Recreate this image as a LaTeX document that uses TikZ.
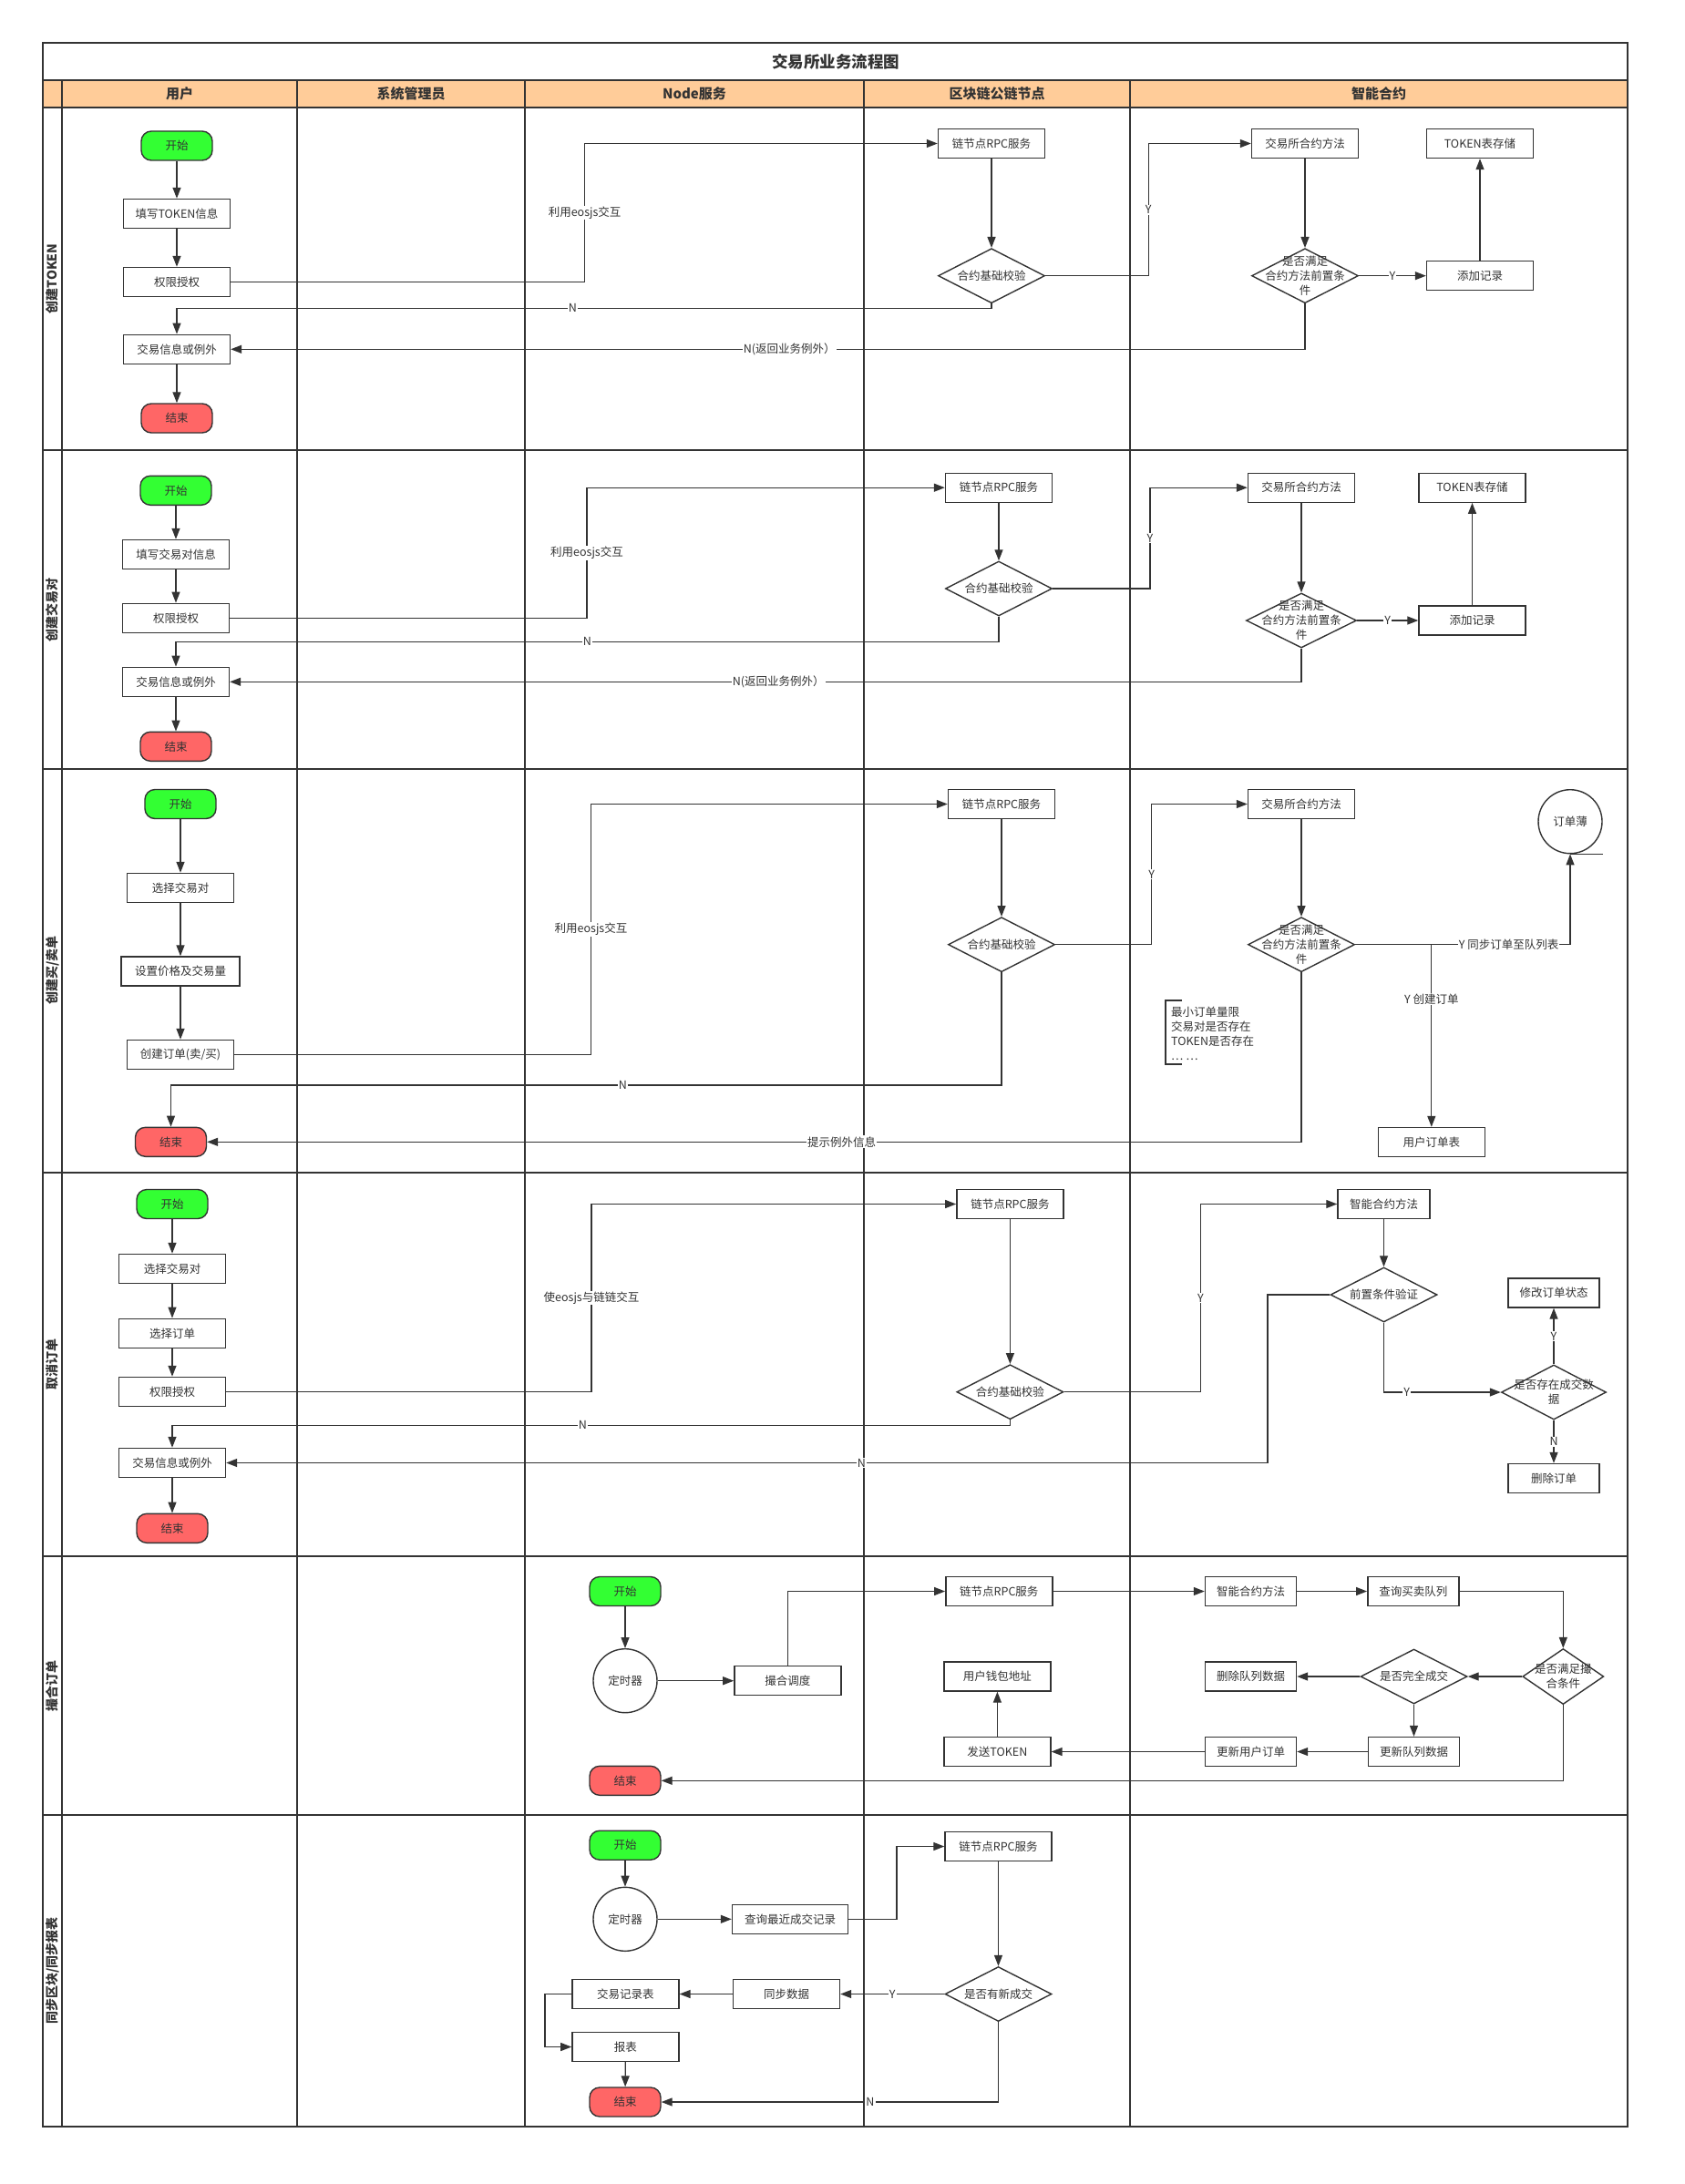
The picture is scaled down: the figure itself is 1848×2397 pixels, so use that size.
\documentclass[tikz,border=0pt]{standalone}
\usepackage{fontspec}
\setmainfont{Noto Sans CJK SC}
\usetikzlibrary{arrows.meta,shapes.geometric}
\definecolor{lc}{HTML}{333333}
\definecolor{hdrc}{HTML}{FFCC99}
\definecolor{startg}{HTML}{33FF33}
\definecolor{endr}{HTML}{FF6666}
\newcommand\myfs{\fontsize{12.5}{16}\selectfont}
\newcommand\myhfs{\fontsize{15}{18}\bfseries\selectfont}
\newcommand\myrfs{\fontsize{14}{17}\bfseries\selectfont}
\newcommand\mytfs{\fontsize{17.5}{20}\bfseries\selectfont}
\tikzset{
 box/.style={draw=lc, line width=1.4pt, fill=white, minimum width=117pt, minimum height=32pt, inner sep=1pt, font=\myfs, text=lc},
 term/.style={box, rounded corners=11pt, minimum width=78pt},
 startn/.style={term, fill=startg},
 endn/.style={term, fill=endr},
 dia/.style={diamond, draw=lc, line width=1.4pt, fill=white, minimum width=117pt, minimum height=60pt, inner sep=0pt},
 dtext/.style={font=\myfs, text=lc, align=center, inner sep=0pt},
 circn/.style={circle, draw=lc, line width=1.4pt, fill=white, minimum size=70pt, inner sep=0pt, font=\myfs, text=lc},
 arr/.style={draw=lc, line width=1.3pt, -{Triangle[length=12pt,width=9pt]}},
 con/.style={draw=lc, line width=1.3pt},
 lab/.style={fill=white, inner sep=1pt, font=\myfs, text=lc},
 lane/.style={draw=lc, line width=2pt},
 hdr/.style={font=\myhfs, text=lc},
 rowl/.style={font=\myrfs, text=lc, rotate=90},
}
\begin{document}
\begin{tikzpicture}[x=1pt,y=-1pt]
\useasboundingbox (0,0) rectangle (1848,2397);
% ---------- frame ----------
\fill[hdrc] (47,88) rectangle (1786,118);
\draw[lane] (47,47) rectangle (1786,2334);
\draw[lane] (47,88) -- (1786,88);
\draw[lane] (47,118) -- (1786,118);
\foreach \xx in {68,326,576,948,1240} \draw[lane] (\xx,88) -- (\xx,2334);
\foreach \yy in {494,844,1287,1708,1992} \draw[lane] (47,\yy) -- (1786,\yy);
\node[font=\mytfs, text=lc] (title) at (917,68) {交易所业务流程图};
\node[hdr] (h1) at (197,103) {用户};
\node[hdr] (h2) at (451,103) {系统管理员};
\node[hdr] (h3) at (762,103) {Node服务};
\node[hdr] (h4) at (1094,103) {区块链公链节点};
\node[hdr] (h5) at (1513,103) {智能合约};
\node[rowl] (l1) at (57.5,306) {创建TOKEN};
\node[rowl] (l2) at (57.5,669) {创建交易对};
\node[rowl] (l3) at (57.5,1065) {创建买/卖单};
\node[rowl] (l4) at (57.5,1497) {取消订单};
\node[rowl] (l5) at (57.5,1850) {撮合订单};
\node[rowl] (l6) at (57.5,2163) {同步区块/同步报表};

% ---------- row 1 ----------
\node[startn] (s1) at (194,160) {开始};
\node[box] (b1a) at (194,234.5) {填写TOKEN信息};
\node[box] (b1b) at (194,309.5) {权限授权};
\node[box] (b1c) at (194,383.3) {交易信息或例外};
\node[endn] (e1) at (194,459) {结束};
\node[box] (r1) at (1088,157.5) {链节点RPC服务};
\node[dia, label={[dtext]center:合约基础校验}] (d1a) at (1088,302.7) {};
\node[box] (m1) at (1432,157.5) {交易所合约方法};
\node[dia, label={[dtext]center:是否满足\\合约方法前置条\\件}] (d1b) at (1432,302.7) {};
\node[box] (t1) at (1624,157.5) {TOKEN表存储};
\node[box] (a1) at (1624,302.7) {添加记录};
\draw[arr] (s1) -- (b1a);
\draw[arr] (b1a) -- (b1b);
\draw[arr] (b1c) -- (e1);
\draw[arr] (b1b.east) -- (641.6,309.5) |- node[lab,pos=0.25]{利用eosjs交互} (r1.west);
\draw[arr] (r1) -- (d1a);
\draw[arr] (d1a.east) -- (1260.3,302.7) |- node[lab,pos=0.25]{Y} (m1.west);
\draw[arr] (d1a.south) -- (1088,338.3) -| node[lab,pos=0.257]{N} (b1c.north);
\draw[arr] (m1) -- (d1b);
\draw[arr] (d1b) -- node[lab]{Y} (a1);
\draw[arr] (a1) -- (t1);
\draw[arr] (d1b.south) |- node[lab,pos=0.74]{N(返回业务例外）} (b1c.east);

% ---------- row 2 ----------
\node[startn] (s2) at (193,538.3) {开始};
\node[box] (b2a) at (193,608.5) {填写交易对信息};
\node[box] (b2b) at (193,678.3) {权限授权};
\node[box] (b2c) at (193,748.3) {交易信息或例外};
\node[endn] (e2) at (193,819.3) {结束};
\node[box] (r2) at (1096,535.2) {链节点RPC服务};
\node[dia, label={[dtext]center:合约基础校验}] (d2a) at (1096,646) {};
\node[box] (m2) at (1428,535.2) {交易所合约方法};
\node[dia, minimum width=121pt, label={[dtext]center:是否满足\\合约方法前置条\\件}] (d2b) at (1428,681) {};
\node[box] (t2) at (1615.5,535.2) {TOKEN表存储};
\node[box] (a2) at (1615.5,681) {添加记录};
\draw[arr] (s2) -- (b2a);
\draw[arr] (b2a) -- (b2b);
\draw[arr] (b2c) -- (e2);
\draw[arr] (b2b.east) -- (644,678.3) |- node[lab,pos=0.25]{利用eosjs交互} (r2.west);
\draw[arr] (r2) -- (d2a);
\draw[arr] (d2a.east) -- (1262,646) |- node[lab,pos=0.25]{Y} (m2.west);
\draw[arr] (d2a.south) -- (1096,704.3) -| node[lab,pos=0.25]{N} (b2c.north);
\draw[arr] (m2) -- (d2b);
\draw[arr] (d2b) -- node[lab]{Y} (a2);
\draw[arr] (a2) -- (t2);
\draw[arr] (d2b.south) |- node[lab,pos=0.744]{N(返回业务例外）} (b2c.east);

% ---------- row 3 ----------
\node[startn] (s3) at (198,882.5) {开始};
\node[box] (b3a) at (198,974.5) {选择交易对};
\node[box, minimum width=130pt] (b3b) at (198,1066) {设置价格及交易量};
\node[box] (b3c) at (198,1157.5) {创建订单(卖/买)};
\node[endn] (e3) at (187.5,1253.3) {结束};
\node[box] (r3) at (1099,882.5) {链节点RPC服务};
\node[dia, label={[dtext]center:合约基础校验}] (d3a) at (1099,1036.7) {};
\node[box] (m3) at (1428,882.5) {交易所合约方法};
\node[dia, label={[dtext]center:是否满足\\合约方法前置条\\件}] (d3b) at (1428,1036.7) {};
\node[circn] (c3) at (1723,901.7) {订单薄};
\node[box] (u3) at (1570.8,1253.5) {用户订单表};
\draw[con] (c3.south) -- ++(35.5,0);
\draw[arr] (s3) -- (b3a);
\draw[arr] (b3a) -- (b3b);
\draw[arr] (b3b) -- (b3c);
\draw[arr] (b3c.east) -- (648.5,1157.5) |- node[lab,pos=0.25]{利用eosjs交互} (r3.west);
\draw[arr] (r3) -- (d3a);
\draw[arr] (d3a.east) -- (1263.6,1036.7) |- node[lab,pos=0.25]{Y} (m3.west);
\draw[arr] (d3a.south) -- (1099,1191) -| node[lab,pos=0.228]{N} (e3.north);
\draw[arr] (m3) -- (d3b);
\draw[arr] (d3b.south) |- node[lab,pos=0.71]{提示例外信息} (e3.east);
\draw[arr] (d3b.east) -| node[lab,pos=0.357]{Y 同步订单至队列表} (c3.south);
\coordinate (j3) at (1570.8,1036.7);
\draw[arr] (j3) -- node[lab,pos=0.3]{Y 创建订单} (u3.north);
\draw[con, line width=1.5pt] (1297,1098) -- (1279,1098) -- (1279,1168) -- (1297,1168);
\node[font=\myfs, text=lc, align=left, anchor=west, inner sep=0pt] (note3) at (1285,1134.5) {最小订单量限\\交易对是否存在\\TOKEN是否存在\\… …};

% ---------- row 4 ----------
\node[startn] (s4) at (189,1321.5) {开始};
\node[box] (b4a) at (189,1392.5) {选择交易对};
\node[box] (b4b) at (189,1463.3) {选择订单};
\node[box] (b4c) at (189,1527.5) {权限授权};
\node[box] (b4d) at (189,1605.5) {交易信息或例外};
\node[endn] (e4) at (189,1677.3) {结束};
\node[box] (r4) at (1108.4,1321.5) {链节点RPC服务};
\node[dia, label={[dtext]center:合约基础校验}] (d4a) at (1108.4,1527.7) {};
\node[box, minimum width=101pt] (m4) at (1518.5,1321.5) {智能合约方法};
\node[dia, label={[dtext]center:前置条件验证}] (d4b) at (1518.5,1421) {};
\node[dia, minimum width=115pt, label={[dtext]center:是否存在成交数\\据}] (d4c) at (1705,1528) {};
\node[box, minimum width=100pt] (g4) at (1705,1419) {修改订单状态};
\node[box, minimum width=100pt] (h4) at (1705,1622.5) {删除订单};
\draw[arr] (s4) -- (b4a);
\draw[arr] (b4a) -- (b4b);
\draw[arr] (b4b) -- (b4c);
\draw[arr] (b4d) -- (e4);
\draw[arr] (b4c.east) -- (649,1527.5) |- node[lab,pos=0.25]{使eosjs与链链交互} (r4.west);
\draw[arr] (r4) -- (d4a);
\draw[arr] (d4a.east) -- (1317.4,1527.7) |- node[lab,pos=0.25]{Y} (m4.west);
\draw[arr] (d4a.south) -- (1108.4,1564.3) -| node[lab,pos=0.255]{N} (b4d.north);
\draw[arr] (m4) -- (d4b);
\draw[arr] (d4b.west) -- (1391,1421) |- node[lab,pos=0.695]{N} (b4d.east);
\draw[arr] (d4b.south) |- node[lab,pos=0.598]{Y} (d4c.west);
\draw[arr] (d4c) -- node[lab]{Y} (g4);
\draw[arr] (d4c) -- node[lab]{N} (h4);

% ---------- row 5 ----------
\node[startn] (s5) at (686,1746.5) {开始};
\node[circn] (q5) at (686,1844.7) {定时器};
\node[box] (k5) at (864.4,1844.7) {撮合调度};
\node[endn] (e5) at (686,1954.3) {结束};
\node[box] (r5) at (1096.3,1746.5) {链节点RPC服务};
\node[box, minimum width=100pt] (m5) at (1372.5,1746.5) {智能合约方法};
\node[box, minimum width=100pt] (y5) at (1550.8,1746.5) {查询买卖队列};
\node[dia, minimum width=89pt, minimum height=61pt, label={[dtext]center:是否满足撮\\合条件}] (d5a) at (1715.3,1840) {};
\node[dia, label={[dtext]center:是否完全成交}] (d5b) at (1551.5,1840) {};
\node[box, minimum width=100pt] (x5) at (1372.5,1840) {删除队列数据};
\node[box, minimum width=100pt] (z5) at (1551.5,1922.5) {更新队列数据};
\node[box, minimum width=100pt] (w5) at (1372.5,1922.5) {更新用户订单};
\node[box] (f5) at (1094.4,1922.5) {发送TOKEN};
\node[box] (p5) at (1094.4,1840) {用户钱包地址};
\draw[arr] (s5) -- (q5);
\draw[arr] (q5) -- (k5);
\draw[arr] (k5.north) |- (r5.west);
\draw[arr] (r5) -- (m5);
\draw[arr] (m5) -- (y5);
\draw[arr] (y5.east) -| (d5a.north);
\draw[arr] (d5a) -- (d5b);
\draw[arr] (d5b) -- (x5);
\draw[arr] (d5b) -- (z5);
\draw[arr] (z5) -- (w5);
\draw[arr] (w5) -- (f5);
\draw[arr] (f5) -- (p5);
\draw[arr] (d5a.south) |- (e5.east);

% ---------- row 6 ----------
\node[startn] (s6) at (686,2025.2) {开始};
\node[circn] (q6) at (686,2106.3) {定时器};
\node[box, minimum width=127pt] (k6) at (867,2106.3) {查询最近成交记录};
\node[box] (v6) at (686.4,2188.5) {交易记录表};
\node[box] (sd6) at (863,2188.5) {同步数据};
\node[box] (rb6) at (686.4,2246.5) {报表};
\node[endn] (e6) at (686,2307) {结束};
\node[box] (r6) at (1095.5,2026.5) {链节点RPC服务};
\node[dia, label={[dtext]center:是否有新成交}] (d6) at (1095.5,2188.5) {};
\draw[arr] (s6) -- (q6);
\draw[arr] (q6) -- (k6);
\draw[arr] (k6.east) -- (984,2106.3) |- (r6.west);
\draw[arr] (r6) -- (d6);
\draw[arr] (d6) -- node[lab,pos=0.5]{Y} (sd6);
\draw[arr] (sd6) -- (v6);
\draw[arr] (v6.west) -- (598,2188.5) |- (rb6.west);
\draw[arr] (rb6) -- (e6);
\draw[arr] (d6.south) |- node[lab,pos=0.69]{N} (e6.east);
\end{tikzpicture}
\end{document}
